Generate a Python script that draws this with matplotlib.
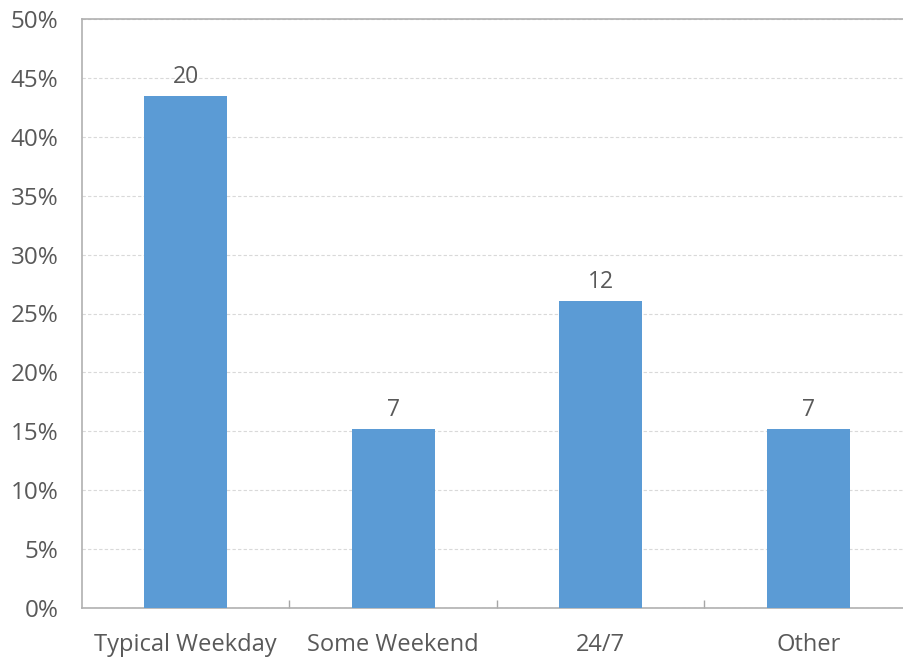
import numpy as np
import matplotlib.pyplot as plt
from matplotlib.ticker import PercentFormatter

# data
categories = ['Typical Weekday', 'Some Weekend', '24/7', 'Other']
counts = [20, 7, 12, 7]
shares = [43.5, 15.2, 26.1, 15.2]   # percent of respondents

plt.rcParams['font.family'] = ['Open Sans', 'DejaVu Sans']
text_color = '#595959'

fig = plt.figure(figsize=(9.04, 6.61), dpi=100)
ax = fig.add_axes([82 / 904, 1 - 608 / 661, 830 / 904, 589 / 661])

x = np.arange(len(categories))
bars = ax.bar(x, shares, width=0.4, color='#5B9BD5', zorder=3)

# count labels above the bars
for b, c in zip(bars, counts):
    ax.text(b.get_x() + b.get_width() / 2, b.get_height() + 0.55, str(c),
            ha='center', va='bottom', fontsize=16.5, color=text_color)

ax.set_xlim(-0.5, len(categories) - 0.5)
ax.set_ylim(0, 50)
ax.set_yticks(np.arange(0, 51, 5))
ax.yaxis.set_major_formatter(PercentFormatter(decimals=0))
ax.set_xticks(x)
ax.set_xticklabels(categories)
ax.set_xticks(np.arange(0.5, len(categories) - 0.5, 1), minor=True)

ax.tick_params(axis='x', which='major', length=0, pad=18, labelsize=17, labelcolor=text_color)
ax.tick_params(axis='x', which='minor', direction='in', length=6, color='#a6a6a6', width=1)
ax.tick_params(axis='y', length=0, pad=17, labelsize=17.5, labelcolor=text_color)

ax.grid(axis='y', linestyle=(0, (3, 2)), color='#d9d9d9', linewidth=0.8, zorder=0)
for s in ['left', 'top', 'bottom']:
    ax.spines[s].set_color('#b0b0b0')
    ax.spines[s].set_linewidth(1.2)
ax.spines['right'].set_visible(False)

fig.savefig('out.png', dpi=100)
